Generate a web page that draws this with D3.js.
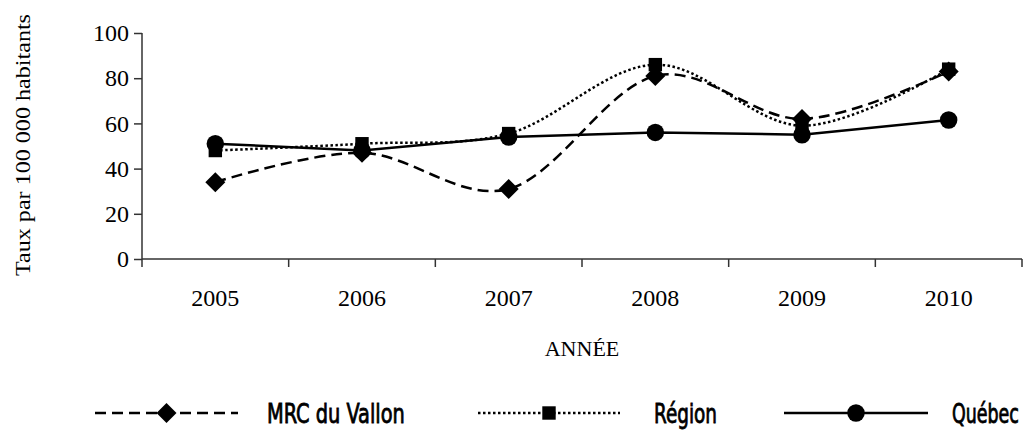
<!DOCTYPE html>
<html>
<head>
<meta charset="utf-8">
<script src="https://cdn.jsdelivr.net/npm/d3@7"></script>
<style>
    body { margin: 0; background: #fff; }
    svg { display: block; }
    .tick text { font-family: "Liberation Serif", "Times New Roman", serif; font-size: 24px; fill: #000; }
    .domain, .tick line { stroke: #333; stroke-width: 1.5; }
</style>
</head>
<body>
<svg id="chart"></svg>
<script>
const years = ["2005", "2006", "2007", "2008", "2009", "2010"];
const mrcValues = [34, 47, 31, 81, 62, 83];
const regionValues = [48, 51, 55.5, 86, 59, 84];
const quebecValues = [51, 48, 54, 56, 55, 61.5];
const yTicks = [0, 20, 40, 60, 80, 100];
const seriesNames = ["MRC du Vallon", "Région", "Québec"];

const width = 1029,
    height = 431;
const margin = { top: 33, right: 7, bottom: 172, left: 142 };

const svg = d3.select("#chart").attr("width", width).attr("height", height);

const x = d3
    .scaleBand()
    .domain(years)
    .range([margin.left, width - margin.right]);

const y = d3
    .scaleLinear()
    .domain([0, 100])
    .range([height - margin.bottom, margin.top]);

// axes
svg.append("g")
    .attr("transform", `translate(0,${y(0)})`)
    .call(
        d3.axisBottom(x)
            .tickSize(0)
            .tickPadding(30)
    )
    .call(g => g.select(".domain").attr("d", `M${margin.left},0H${width - margin.right}`));

// category boundary ticks (excel style, between bands)
svg.append("g")
    .selectAll("line")
    .data(years.map(d => x(d)).concat([x(years[years.length - 1]) + x.bandwidth()]))
    .enter()
    .append("line")
    .attr("x1", d => d)
    .attr("x2", d => d)
    .attr("y1", y(0))
    .attr("y2", y(0) + 8)
    .attr("stroke", "#333")
    .attr("stroke-width", 1.5);

svg.append("g")
    .attr("transform", `translate(${margin.left},0)`)
    .call(
        d3.axisLeft(y)
            .tickValues(yTicks)
            .tickSize(8)
            .tickPadding(5)
    )
    .call(g => g.select(".domain").attr("d", `M0,${y(0)}V${y(100)}`));

// axis titles
svg.append("text")
    .attr("transform", `translate(30,145) rotate(-90)`)
    .attr("text-anchor", "middle")
    .attr("textLength", 262)
    .attr("lengthAdjust", "spacingAndGlyphs")
    .style("font-family", "Liberation Serif, serif")
    .style("font-size", "22px")
    .text("Taux par 100 000 habitants");

svg.append("text")
    .attr("x", (margin.left + width - margin.right) / 2)
    .attr("y", 356)
    .attr("text-anchor", "middle")
    .style("font-family", "Liberation Serif, serif")
    .style("font-size", "22px")
    .text("ANNÉE");

const cx = d => x(d) + x.bandwidth() / 2;

const series = [
    { name: seriesNames[0], values: mrcValues, dash: "11,6", curve: d3.curveCatmullRom.alpha(0), marker: "diamond" },
    { name: seriesNames[1], values: regionValues, dash: "2.5,2.5", curve: d3.curveCatmullRom.alpha(0), marker: "square" },
    { name: seriesNames[2], values: quebecValues, dash: null, curve: d3.curveLinear, marker: "circle" }
];

const symbols = {
    diamond: d3.symbol().type(d3.symbolSquare).size(200),
    square: d3.symbol().type(d3.symbolSquare).size(180),
    circle: d3.symbol().type(d3.symbolCircle).size(240)
};

function drawMarker(g, kind, px, py) {
    g.append("path")
        .attr("d", symbols[kind]())
        .attr("transform", `translate(${px},${py})` + (kind == "diamond" ? " rotate(45)" : ""))
        .attr("fill", "#000");
}

series.forEach(s => {
    const line = d3
        .line()
        .x((d, i) => cx(years[i]))
        .y(d => y(d))
        .curve(s.curve);

    svg.append("path")
        .datum(s.values)
        .attr("d", line)
        .attr("fill", "none")
        .attr("stroke", "#000")
        .attr("stroke-width", 2.5)
        .attr("stroke-dasharray", s.dash);

    const g = svg.append("g");
    s.values.forEach((v, i) => drawMarker(g, s.marker, cx(years[i]), y(v)));
});

// legend
const legendY = 413;
const legendItems = [
    { x0: 95, x1: 238, tx: 267, tw: 138 },
    { x0: 478, x1: 620, tx: 654, tw: 63 },
    { x0: 784, x1: 928, tx: 952, tw: 67 }
];

const legend = svg.append("g").attr("class", "legend");
series.forEach((s, i) => {
    const it = legendItems[i];
    legend.append("line")
        .attr("x1", it.x0)
        .attr("x2", it.x1)
        .attr("y1", legendY)
        .attr("y2", legendY)
        .attr("stroke", "#000")
        .attr("stroke-width", 2.5)
        .attr("stroke-dasharray", s.dash);
    drawMarker(legend, s.marker, (it.x0 + it.x1) / 2, legendY);
    const t = legend.append("text")
        .attr("stroke", "#000")
        .attr("stroke-width", 0.8)
        .style("font-family", "Liberation Sans Narrow, DejaVu Sans Condensed, sans-serif")
        .style("font-size", "27px")
        .text(s.name);
    // squeeze horizontally to the condensed width of the original
    const natural = t.node().getComputedTextLength();
    t.attr("transform", `translate(${it.tx},423) scale(${it.tw / natural},1)`);
});
</script>
</body>
</html>
